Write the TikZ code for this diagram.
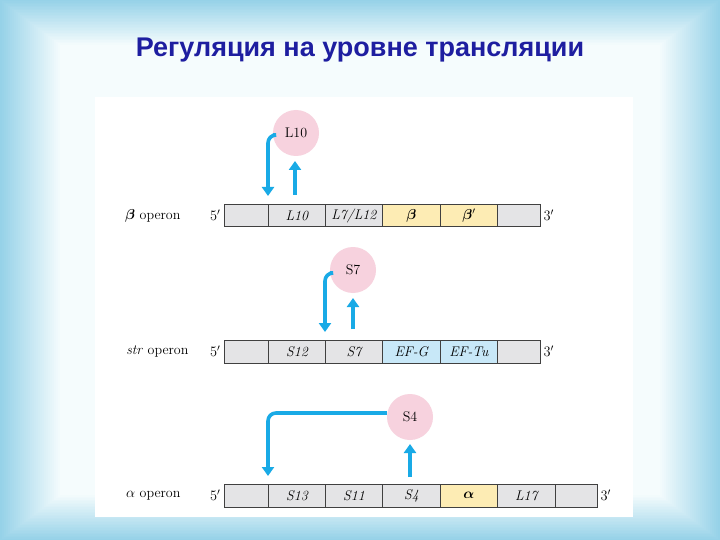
\documentclass[tikz,border=0pt]{standalone}
\usepackage{amsmath,bm}
\usepackage{fontspec}
\newfontfamily\titlefont{Liberation Sans}
\usetikzlibrary{arrows.meta}
\definecolor{bgblue}{RGB}{150,210,232}
\definecolor{bglight}{RGB}{245,252,253}
\definecolor{ttl}{RGB}{30,30,160}
\definecolor{seg}{RGB}{228,228,230}
\definecolor{yel}{RGB}{253,236,180}
\definecolor{lblue}{RGB}{200,232,248}
\definecolor{pinkc}{RGB}{247,210,222}
\definecolor{arr}{RGB}{25,170,230}
\begin{document}
\begin{tikzpicture}[x=1pt,y=-1pt,
  segbox/.style={draw=black!75,line width=0.8pt,minimum height=22.5pt,inner sep=0pt,font=\itshape\fontsize{14}{16}\selectfont,anchor=north west},
  prot/.style={circle,fill=pinkc,minimum size=46pt,inner sep=0pt,font=\fontsize{14}{16}\selectfont},
  lab/.style={font=\fontsize{14}{16}\selectfont,anchor=east},
  endlab/.style={font=\fontsize{14}{16}\selectfont,anchor=west},
  flow/.style={draw=arr,line width=3.6pt,-{Triangle[length=9pt,width=12pt]},rounded corners=8pt}]
\useasboundingbox (0,0) rectangle (720,540);
\fill[bgblue] (0,0) rectangle (720,540);
\foreach \i in {1,...,30}{
  \pgfmathsetmacro\pc{\i*100/30}
  \fill[bglight!\pc!bgblue] (\i*2,\i*1.5) rectangle (720-\i*2,540-\i*1.5);
}
\fill[white] (95,97) rectangle (633,517);
\node[font=\titlefont\bfseries\fontsize{27}{30}\selectfont,text=ttl] (title) at (360,50) {Регуляция на уровне трансляции};
% beta operon
\node[segbox,fill=seg,minimum width=44pt] (b0) at (224,204) {};
\node[segbox,fill=seg,minimum width=57pt] (b1) at (268,204) {L10};
\node[segbox,fill=seg,minimum width=57pt] (b2) at (325,204) {L7/L12};
\node[segbox,fill=yel,minimum width=58pt] (b3) at (382,204) {$\bm\beta$};
\node[segbox,fill=yel,minimum width=57pt] (b4) at (440,204) {$\bm\beta'$};
\node[segbox,fill=seg,minimum width=43pt] (b5) at (497,204) {};
\node[lab] (b5p) at (224,215.5) {$5'$};
\node[endlab] (b3p) at (540,215.5) {$3'$};
\node[lab] (bl) at (184,215.5) {$\bm\beta$ operon};
% str operon
\node[segbox,fill=seg,minimum width=44pt] (s0) at (224,340) {};
\node[segbox,fill=seg,minimum width=57pt] (s1) at (268,340) {S12};
\node[segbox,fill=seg,minimum width=57pt] (s2) at (325,340) {S7};
\node[segbox,fill=lblue,minimum width=58pt] (s3) at (382,340) {EF-G};
\node[segbox,fill=lblue,minimum width=57pt] (s4) at (440,340) {EF-Tu};
\node[segbox,fill=seg,minimum width=43pt] (s5) at (497,340) {};
\node[lab] (s5p) at (224,351.5) {$5'$};
\node[endlab] (s3p) at (540,351.5) {$3'$};
\node[lab] (sl) at (192,351.5) {\textit{str} operon};
% alpha operon
\node[segbox,fill=seg,minimum width=44pt] (a0) at (224,484) {};
\node[segbox,fill=seg,minimum width=57pt] (a1) at (268,484) {S13};
\node[segbox,fill=seg,minimum width=57pt] (a2) at (325,484) {S11};
\node[segbox,fill=seg,minimum width=58pt] (a3) at (382,484) {S4};
\node[segbox,fill=yel,minimum width=57pt] (a4) at (440,484) {$\bm\alpha$};
\node[segbox,fill=seg,minimum width=58pt] (a5) at (497,484) {L17};
\node[segbox,fill=seg,minimum width=42pt] (a6) at (555,484) {};
\node[lab] (a5p) at (224,495.5) {$5'$};
\node[endlab] (a3p) at (597,495.5) {$3'$};
\node[lab] (al) at (184,495.5) {$\alpha$ operon};
% proteins
\node[prot] (L10) at (296,133) {L10};
\node[prot] (S7) at (353,270) {S7};
\node[prot] (S4) at (410,417) {S4};
% arrows
\coordinate (b1t) at (268,196);
\coordinate (b1u) at (295,195);
\coordinate (L10u) at (295,161);
\draw[flow] ([yshift=-2pt]L10.west) -| (b1t);
\draw[flow] (b1u) -- (L10u);
\coordinate (s2t) at (325,332);
\coordinate (s2u) at (353,329);
\coordinate (S7u) at (353,298);
\draw[flow] ([yshift=-3pt]S7.west) -| (s2t);
\draw[flow] (s2u) -- (S7u);
\coordinate (a1t) at (268,476);
\coordinate (a3u) at (410,477);
\coordinate (S4u) at (410,444);
\draw[flow] ([yshift=4pt]S4.west) -| (a1t);
\draw[flow] (a3u) -- (S4u);
\end{tikzpicture}
\end{document}
